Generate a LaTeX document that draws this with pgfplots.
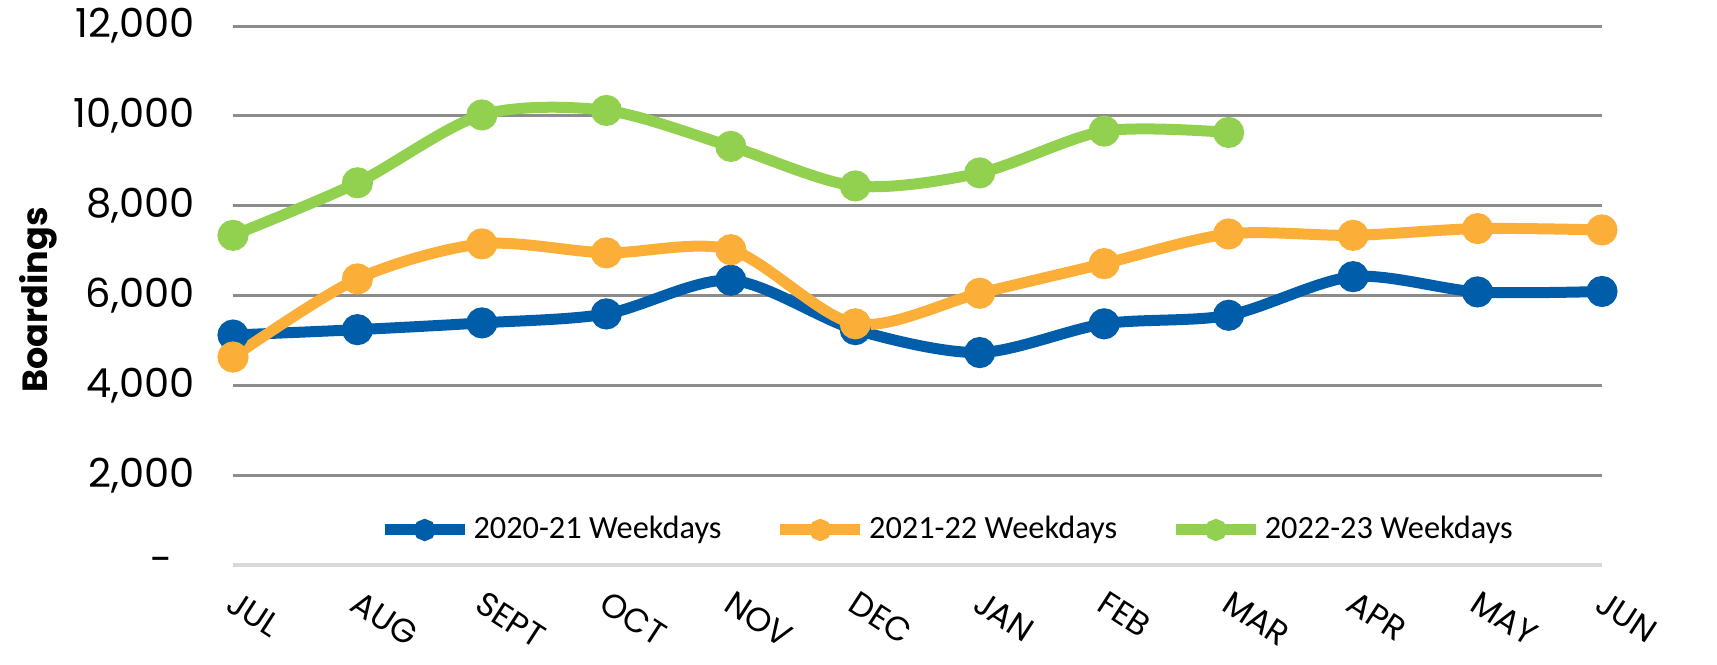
\documentclass[border=0pt]{standalone}
\usepackage{fontspec}
\setmainfont{Poppins}
\newfontfamily\legfont{Carlito}
\usepackage{pgfplots}
\pgfplotsset{compat=1.18}

\definecolor{blueline}{HTML}{005DAA}
\definecolor{orangeline}{HTML}{FBAE38}
\definecolor{greenline}{HTML}{92D050}
\definecolor{gridgray}{HTML}{8C8C8C}
\definecolor{basegray}{HTML}{D9D9D9}

\begin{document}
\begin{tikzpicture}
\path[use as bounding box] (-69.9pt,-29.7pt) rectangle (445.2pt,169.5pt);
\begin{axis}[
  at={(0,0)}, anchor=south west,
  scale only axis,
  width=410.7pt, height=161.7pt,
  xmin=0, xmax=11,
  ymin=0, ymax=12000,
  clip=false,
  scaled y ticks=false,
  axis line style={draw=none},
  major tick length=0pt,
  xtick={0,...,11},
  xticklabels={JUL,AUG,SEPT,OCT,NOV,DEC,JAN,FEB,MAR,APR,MAY,JUN},
  xticklabel style={font=\fontsize{10}{11}\selectfont, rotate=-33, anchor=north west, yshift=-2pt, xshift=1.5pt},
  ytick={2000,4000,6000,8000,10000,12000},
  yticklabels={{2,000},{4,000},{6,000},{8,000},{10,000},{12,000}},
  extra y ticks={0},
  extra y tick labels={-},
  extra y tick style={grid style={color=basegray, line width=1.2pt}, yticklabel style={xshift=-6.5pt}},
  yticklabel style={font=\fontsize{12}{13}\selectfont, xshift=-8pt},
  /pgf/number format/assume math mode=true,
  ymajorgrids=true,
  grid style={color=gridgray, line width=0.9pt},
  ylabel={\bfseries Boardings},
  ylabel style={at={(axis description cs:-0.1424,0.492)}, anchor=center, font=\fontsize{10.5}{12}\selectfont},
  legend columns=3,
  legend style={at={(0.522,0.065)}, anchor=center, draw=none, fill=none,
    font=\legfont\fontsize{9.7}{11}\selectfont,
    /tikz/every even column/.append style={column sep=15pt},
    nodes={inner sep=1pt}},
  legend image code/.code={\draw[mark repeat=2, mark phase=2, #1, mark size=1.6pt] plot coordinates {(0pt,0pt) (12pt,0pt) (24pt,0pt)};},
  every axis plot/.append style={line width=3.3pt, mark=*, mark size=3pt, smooth, tension=0.5},
]
\addplot[color=blueline, mark options={fill=blueline}] coordinates {
(0,5120) (1,5240) (2,5390) (3,5590) (4,6340) (5,5240) (6,4730) (7,5370) (8,5560) (9,6420) (10,6080) (11,6090)};
\addlegendentry{2020-21 Weekdays}
\addplot[color=orangeline, mark options={fill=orangeline}] coordinates {
(0,4630) (1,6370) (2,7150) (3,6950) (4,7020) (5,5370) (6,6050) (7,6710) (8,7370) (9,7340) (10,7490) (11,7460)};
\addlegendentry{2021-22 Weekdays}
\addplot[color=greenline, mark options={fill=greenline}] coordinates {
(0,7340) (1,8510) (2,10020) (3,10120) (4,9320) (5,8440) (6,8730) (7,9660) (8,9630)};
\addlegendentry{2022-23 Weekdays}
\end{axis}
\end{tikzpicture}
\end{document}
